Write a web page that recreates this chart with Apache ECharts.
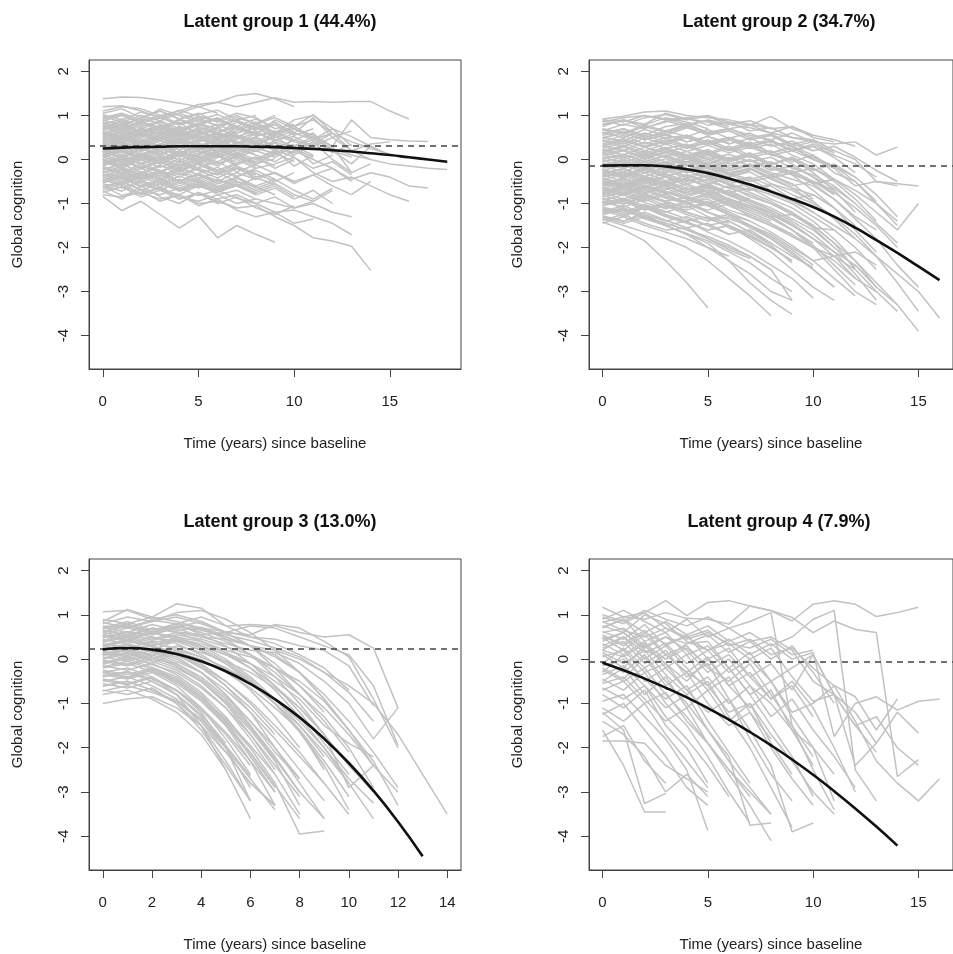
<!DOCTYPE html>
<html>
<head>
<meta charset="utf-8">
<script src="https://cdn.jsdelivr.net/npm/echarts@6/dist/echarts.min.js"></script>
<style>
html, body { margin: 0; padding: 0; background: #fff; }
#chart { width: 953px; height: 954px; }
</style>
</head>
<body>
<div id="chart"></div>
<script>
// panel titles and axis text
var titles = ["Latent group 1 (44.4%)", "Latent group 2 (34.7%)", "Latent group 3 (13.0%)", "Latent group 4 (7.9%)"];
var xName = "Time (years) since baseline";
var yName = "Global cognition";

// axis ranges and ticks (R style, 4% padding added below)
var xMax = [18, 16, 14, 16];
var yRange = [-4.5, 2];
var yTicks = [-4, -3, -2, -1, 0, 1, 2];
var xTicksA = [0, 5, 10, 15];
var xTicksB = [0, 2, 4, 6, 8, 10, 12, 14];

// dashed reference level (baseline mean) per group
var refLevel = [0.31, -0.14, 0.245, -0.07];

// estimated mean trajectory per group, one value per year from t = 0
var mean1 = [0.25, 0.27, 0.28, 0.29, 0.3, 0.3, 0.3, 0.3, 0.29, 0.28, 0.26, 0.24, 0.21, 0.18, 0.14, 0.1, 0.05, 0.0, -0.05];
var mean2 = [-0.14, -0.13, -0.13, -0.16, -0.22, -0.31, -0.43, -0.57, -0.73, -0.9, -1.08, -1.3, -1.55, -1.83, -2.12, -2.43, -2.74];
var mean3 = [0.22, 0.25, 0.215, 0.115, -0.05, -0.275, -0.56, -0.905, -1.315, -1.795, -2.345, -2.97, -3.67, -4.45];
var mean4 = [-0.08, -0.25, -0.44, -0.645, -0.865, -1.105, -1.365, -1.645, -1.945, -2.265, -2.61, -2.98, -3.37, -3.78, -4.21];

// individual trajectories (yearly values from t = 0)
var group1 = [
  [1.38,1.42,1.41,1.35,1.28,1.2,1.05],
  [1.2,1.22,1.1,0.95,1.05,1.2,1.3,1.45,1.5,1.38,1.2],
  [1.1,1.2,1.15,1.0,1.1,1.25,1.3,1.2,1.3,1.4,1.3,1.32,1.3,1.32,1.32,1.1,0.92],
  [0.95,1.05,0.9,1.15,1.0,0.85,0.9,1.05,0.95,0.7,0.8],
  [0.9,0.75,0.95,0.8,0.62,0.78,0.92,0.7,0.55],
  [0.72,0.86,0.6,0.7,0.92,0.75,0.55,0.62],
  [0.62,0.5,0.72,0.55,0.4,0.6,0.5,0.72,0.6,0.45,0.52,0.3],
  [0.52,0.66,0.45,0.55,0.72,0.5,0.35,0.45],
  [0.42,0.3,0.5,0.62,0.4,0.25,0.45,0.56,0.35,0.5],
  [0.3,0.46,0.35,0.2,0.42,0.52,0.3,0.2,0.36],
  [0.2,0.05,0.22,0.35,0.15,0.0,0.18,0.3,0.1],
  [0.1,0.25,0.05,-0.1,0.12,0.28,0.08,-0.05],
  [0.0,-0.15,0.08,0.2,-0.02,-0.2,0.05,0.15,-0.1,0.02],
  [-0.1,0.05,-0.2,-0.05,-0.25,-0.1,0.08,-0.15],
  [-0.2,-0.35,-0.15,-0.3,-0.1,-0.25,-0.42,-0.2,-0.35],
  [-0.3,-0.15,-0.4,-0.25,-0.5,-0.32,-0.18,-0.38,-0.25,-0.45],
  [-0.4,-0.55,-0.35,-0.5,-0.3,-0.48,-0.62,-0.45],
  [-0.5,-0.38,-0.6,-0.45,-0.65,-0.5,-0.7,-0.55,-0.75,-0.6,-0.85],
  [-0.6,-0.72,-0.5,-0.68,-0.8,-0.6,-0.75],
  [-0.7,-0.55,-0.78,-0.62,-0.85,-0.95,-0.8,-1.0,-0.9],
  [0.8,0.92,0.75,0.88,0.7,0.82,0.65,0.72,0.55,0.6,0.75,1.02,0.6,0.2,0.35,0.4],
  [0.2,0.35,0.25,0.42,0.3,0.45,0.35,0.52,0.4,0.6,0.7,0.55,0.3,0.9,0.5,0.45,0.42,0.41],
  [-0.1,0.0,0.1,-0.05,0.15,0.05,0.2,0.1,0.25,0.15,0.3,0.45,0.25,0.1,0.0,-0.1,-0.15,-0.2,-0.23],
  [-0.3,-0.2,-0.35,-0.15,-0.25,-0.1,-0.3,-0.2,-0.4,-0.3,-0.5,-0.35,-0.2,-0.45,-0.3,-0.4,-0.6,-0.65],
  [0.0,-0.15,0.05,-0.1,0.1,-0.05,0.15,0.0,-0.2,-0.1,0.05,-0.3,-0.5,-0.4,-0.6,-0.8,-0.95],
  [0.6,0.5,0.65,0.45,0.55,0.4,0.6,0.5,0.35,0.55,0.4,0.3,0.5,0.2,0.0],
  [0.3,0.42,0.2,0.35,0.5,0.3,0.4,0.25,0.45,0.3,0.1,0.35,0.6,0.4,0.25,0.12],
  [-0.5,-0.4,-0.62,-0.5,-0.7,-0.55,-0.8,-0.7,-0.9,-1.0,-1.1,-1.0,-1.2,-1.3],
  [-0.8,-0.85,-0.75,-0.9,-0.8,-1.0,-0.95,-1.1,-1.05,-1.3,-1.5,-1.78,-1.85,-1.97,-2.52],
  [-0.84,-1.16,-0.95,-1.25,-1.56,-1.28,-1.78,-1.5,-1.7,-1.88],
  [-0.72,-0.9,-0.6,-0.85,-1.0,-0.75,-0.9,-0.8,-1.0,-1.2,-1.15,-1.3,-1.45,-1.71],
  [0.5,0.62,0.4,0.55,0.7,0.5,0.6,0.45,0.8,0.6,0.9,1.0,0.7,0.52,0.3,0.1],
  [0.1,0.2,0.05,0.25,0.15,0.3,0.2,0.35,0.5,0.3,0.15,0.4,0.2,-0.1,0.3,0.1],
  [0.85,0.7,0.88,1.0,0.8,0.95,0.75,0.9,0.7,0.85,0.6,0.95,0.5,0.65],
  [0.45,0.55,0.7,0.5,0.65,0.8,0.6,0.75,0.55,0.9,0.7,0.5,0.3,-0.3],
  [-0.25,-0.1,-0.3,-0.45,-0.2,-0.35,-0.55,-0.4,-0.6,-0.45,-0.7,-0.9,-0.65],
  [-0.6,-0.82,-0.7,-0.95,-0.8,-1.05,-0.9,-1.15,-1.3,-1.2,-1.45,-1.35],
  [-0.45,-0.6,-0.8,-0.65,-0.9,-0.75,-1.0,-0.85,-1.1,-1.25,-1.05],
  [0.15,0.3,0.1,0.28,0.45,0.2,0.38,0.15,0.3,0.55,0.2,0.0,-0.2,-0.5],
  [0.35,0.2,0.4,0.25,0.1,0.35,0.15,0.4,0.2,0.05,0.3,0.1],
  [0.75,0.6,0.8,0.68,0.85,0.55,0.7,0.9,0.65],
  [0.68,0.8,0.65,0.78,0.6,0.82,0.7],
  [0.55,0.45,0.6,0.75,0.55,0.68,0.48,0.62],
  [0.48,0.6,0.38,0.5,0.35,0.55,0.42,0.3,0.5],
  [0.38,0.25,0.45,0.3,0.48,0.35,0.2],
  [0.25,0.4,0.18,0.32,0.15,0.3,0.45,0.28],
  [0.12,-0.05,0.15,0.0,0.2,0.08,-0.1,0.05,-0.15],
  [0.05,0.18,-0.02,0.12,-0.08,0.1,0.25,0.05],
  [-0.05,-0.2,0.0,-0.18,0.02,-0.12,-0.3,-0.1],
  [-0.15,0.0,-0.22,-0.05,-0.28,-0.1,-0.25,-0.4,-0.2],
  [-0.35,-0.5,-0.3,-0.45,-0.25,-0.42,-0.3,-0.5],
  [-0.42,-0.3,-0.5,-0.35,-0.55,-0.4,-0.6],
  [-0.55,-0.65,-0.48,-0.62,-0.45,-0.6,-0.75,-0.58,-0.8],
  [-0.65,-0.5,-0.7,-0.55,-0.72,-0.6],
  [0.92,1.02,0.85,0.95,0.8,0.98,0.88,0.75,0.92,0.7],
  [1.02,0.9,1.08,0.95,1.12,0.98,0.85],
  [0.65,0.78,0.58,0.72,0.5,0.65,0.8,0.6,0.72,0.5,0.65],
  [0.58,0.45,0.62,0.48,0.65,0.5,0.38,0.55,0.4,0.6,0.45],
  [0.28,0.15,0.35,0.2,0.38,0.25,0.1,0.3,0.18,0.4,0.25,0.05],
  [0.18,0.32,0.12,0.28,0.05,0.22,0.35,0.15,0.3,0.1,0.35],
  [-0.02,0.12,-0.08,0.08,-0.15,0.05,-0.1,0.1,-0.05,0.2,-0.15,0.1],
  [-0.18,-0.32,-0.1,-0.28,-0.05,-0.22,-0.35,-0.15,-0.32,-0.5,-0.3],
  [-0.38,-0.22,-0.45,-0.3,-0.5,-0.35,-0.55,-0.42,-0.65,-0.5],
  [0.82,0.68,0.85,0.7,0.9,0.72,0.6,0.78],
  [0.4,0.52,0.32,0.48,0.3,0.45,0.58,0.4,0.25,0.42,0.6,0.45,0.7,0.3],
  [0.02,-0.12,0.1,-0.05,0.15,-0.02,0.2,0.05,-0.1,0.12,0.3,-0.1,0.1],
  [-0.48,-0.35,-0.55,-0.7,-0.5,-0.65,-0.45,-0.6,-0.8,-0.65,-0.9,-0.7,-1.0],
  [0.98,0.85,1.0,0.88,1.05,0.9,0.78,0.95,0.82,1.0],
  [0.88,1.0,0.82,0.95,0.78,0.9,1.02,0.85,0.7],
  [0.78,0.65,0.85,0.72,0.9,0.8,0.95,0.7,0.85,0.62,0.75,0.5],
  [0.7,0.82,0.62,0.78,0.55,0.72,0.6,0.85,0.68,0.8,0.55],
  [0.63,0.52,0.7,0.58,0.75,0.62,0.48,0.66,0.8,0.55,0.7,0.45,0.6],
  [0.56,0.7,0.5,0.64,0.45,0.6,0.72,0.52,0.65,0.4],
  [0.47,0.36,0.55,0.42,0.6,0.45,0.58,0.38,0.52,0.65,0.42],
  [0.43,0.56,0.35,0.5,0.38,0.52,0.3,0.46,0.6],
  [0.33,0.22,0.4,0.28,0.44,0.3,0.48,0.25,0.4,0.2,0.45,0.3],
  [0.27,0.4,0.2,0.36,0.22,0.38,0.18,0.35,0.5,0.3],
  [0.16,0.05,0.25,0.1,0.28,0.12,0.3,0.05,0.2,0.38,0.1],
  [0.08,0.22,0.0,0.18,-0.02,0.15,0.3,0.1,0.25],
  [-0.04,-0.16,0.05,-0.1,0.1,-0.08,0.12,-0.12,0.05,-0.2,0.0],
  [-0.12,0.02,-0.18,0.0,-0.22,-0.05,-0.25,-0.08,0.05,-0.15],
  [-0.22,-0.1,-0.3,-0.12,-0.35,-0.18,-0.05,-0.28,-0.12,-0.32,-0.5],
  [-0.28,-0.4,-0.2,-0.38,-0.18,-0.35,-0.5,-0.3,-0.45],
  [-0.37,-0.25,-0.45,-0.3,-0.5,-0.32,-0.48,-0.6,-0.42,-0.55],
  [-0.46,-0.58,-0.4,-0.55,-0.38,-0.52,-0.68,-0.5,-0.62,-0.8],
  [-0.53,-0.42,-0.62,-0.5,-0.68,-0.55,-0.72,-0.6,-0.78],
  [-0.62,-0.5,-0.68,-0.8,-0.65,-0.82,-0.7,-0.88,-1.0,-0.85,-1.1,-0.95],
  [0.9,0.78,0.95,1.1,0.92,1.05,0.85,1.0,0.8,0.95,0.75,0.9,0.6],
  [0.74,0.88,0.7,0.85,0.65,0.8,0.92,0.75,0.6,0.8,0.55,0.7],
  [0.36,0.48,0.3,0.45,0.55,0.4,0.52,0.35,0.6,0.45,0.3,0.52,0.2,0.05],
  [0.06,-0.08,0.12,0.0,0.18,0.05,-0.05,0.15,0.0,0.22,0.05,-0.2,-0.05,-0.35],
  [-0.16,-0.3,-0.1,-0.25,-0.4,-0.2,-0.35,-0.15,-0.45,-0.3,-0.55,-0.35,-0.6,-0.8,-0.5],
  [-0.33,-0.45,-0.28,-0.42,-0.6,-0.45,-0.65,-0.5,-0.7,-0.55,-0.8,-0.95,-0.7],
  [0.52,0.4,0.58,0.45,0.62,0.48,0.35,0.55,0.4,0.25,0.45,0.6,0.15,0.35],
  [0.22,0.1,0.28,0.12,0.32,0.18,0.05,0.25,0.1,-0.05,0.2,0.4,0.0,-0.3,-0.1],
  [1.05,1.15,0.95,1.1,0.92,1.02,1.12,0.9,1.0],
  [-0.75,-0.62,-0.85,-0.7,-0.9,-0.78,-0.95,-1.1],
  [0.6,0.72,0.55,0.68,0.5,0.65,0.45,0.6,0.75,0.5],
  [-0.08,0.08,-0.12,0.05,-0.18,0.0,-0.15,0.1,-0.1,0.15,-0.05]
];

var group2 = [
  [0.92,0.98,1.08,1.1,1.0,0.95,0.9,0.8,0.7],
  [0.85,0.95,1.0,0.9,0.95,1.0,0.85,0.78,0.98,0.7,0.55,0.45,0.3],
  [0.75,0.9,0.8,1.05,0.92,0.85,0.7,0.78,0.6,0.5,0.4],
  [0.6,0.7,0.55,0.75,0.82,0.6,0.7,0.55,0.45,0.6,0.4,0.35,0.4,0.1,0.28],
  [0.5,0.42,0.6,0.48,0.55,0.4,0.5,0.35,0.45,0.2,0.3,0.05,-0.3],
  [0.4,0.55,0.35,0.5,0.3,0.45,0.25,0.4,0.15,0.3,0.0,-0.2,-0.6,-0.5,-0.55,-0.6],
  [0.3,0.2,0.4,0.25,0.35,0.15,0.3,0.1,0.2,-0.05,0.1,-0.3,-0.5,-0.95],
  [0.2,0.32,0.15,0.28,0.1,0.22,0.0,0.15,-0.1,0.05,-0.2,-0.45,-0.8,-1.2,-1.6,-1.0],
  [0.1,0.0,0.15,0.05,-0.05,0.1,-0.1,0.0,-0.2,-0.35,-0.5,-0.7],
  [0.0,0.12,-0.05,0.08,-0.12,0.0,-0.2,-0.1,-0.3,-0.45,-0.6,-0.9,-1.3,-1.6],
  [-0.1,-0.2,-0.05,-0.18,-0.3,-0.15,-0.35,-0.5,-0.4,-0.65,-0.8,-1.1,-1.5],
  [-0.2,-0.08,-0.25,-0.12,-0.3,-0.2,-0.4,-0.28,-0.55,-0.7,-0.95],
  [-0.3,-0.42,-0.25,-0.4,-0.5,-0.35,-0.55,-0.7,-0.6,-0.9,-1.2,-1.5,-1.8,-2.2,-2.6,-3.0,-3.6],
  [-0.4,-0.3,-0.5,-0.38,-0.55,-0.45,-0.65,-0.8,-1.0,-1.2,-1.5,-1.9,-2.3,-2.8,-3.3,-3.9],
  [-0.5,-0.62,-0.45,-0.6,-0.75,-0.6,-0.8,-0.95,-1.15,-1.4],
  [-0.6,-0.5,-0.7,-0.58,-0.8,-0.7,-0.9,-1.05,-1.2,-1.5,-1.8,-2.1,-2.4,-2.9,-3.3],
  [-0.7,-0.82,-0.65,-0.85,-0.95,-0.8,-1.0,-1.2,-1.4],
  [-0.8,-0.7,-0.9,-0.78,-1.0,-0.9,-1.15,-1.3,-1.5,-1.75,-2.0,-2.3,-2.7,-3.0,-3.45],
  [-0.9,-1.02,-0.85,-1.05,-1.15,-1.0,-1.25,-1.4],
  [-1.0,-0.9,-1.1,-1.0,-1.2,-1.35,-1.5,-1.7,-2.0,-2.3],
  [-1.1,-1.25,-1.05,-1.25,-1.4,-1.3,-1.55,-1.75,-2.0],
  [-1.2,-1.1,-1.3,-1.45,-1.6,-1.8,-2.0,-2.2,-2.5,-3.2],
  [-1.3,-1.4,-1.25,-1.5,-1.7,-2.0,-2.3,-2.6,-3.0,-3.2],
  [-1.42,-1.6,-1.85,-2.3,-2.8,-3.37],
  [-1.35,-1.5,-1.65,-1.8,-2.0,-2.3,-2.7,-3.1,-3.55],
  [-0.95,-1.1,-1.3,-1.5,-1.7,-1.9,-2.3,-2.8,-3.2,-3.52],
  [0.65,0.8,0.7,0.88,0.75,0.9,0.8,0.72,0.6,0.75,0.5,0.4],
  [0.55,0.65,0.5,0.6,0.75,0.55,0.65,0.45,0.55,0.35,0.45,0.2,0.0,-0.5,-0.6],
  [0.35,0.48,0.3,0.45,0.28,0.4,0.22,0.35,0.15,0.25,0.05,-0.15,-0.5,-1.0,-1.5],
  [0.15,0.05,0.2,0.08,0.18,0.0,0.12,-0.05,0.05,-0.2,-0.35,-0.6,-1.0],
  [-0.05,0.05,-0.12,0.02,-0.15,-0.05,-0.25,-0.15,-0.35,-0.25,-0.5,-0.75,-1.1,-1.5,-2.0],
  [-0.15,-0.28,-0.1,-0.25,-0.05,-0.2,-0.32,-0.45,-0.35,-0.6,-0.5,-0.8],
  [-0.25,-0.12,-0.3,-0.2,-0.38,-0.25,-0.45,-0.6,-0.75,-0.95,-1.2],
  [-0.35,-0.5,-0.3,-0.48,-0.35,-0.55,-0.42,-0.65,-0.8,-1.0,-1.3,-1.6,-2.0,-2.5],
  [-0.45,-0.35,-0.55,-0.4,-0.6,-0.75,-0.6,-0.85,-1.0,-1.25,-1.5,-1.9,-2.5,-3.0],
  [-0.55,-0.7,-0.5,-0.68,-0.55,-0.75,-0.95,-1.1,-1.3,-1.6,-2.0,-2.5,-3.0,-3.3],
  [-0.65,-0.55,-0.75,-0.6,-0.8,-0.65,-0.9,-1.05,-1.25,-1.5],
  [-0.75,-0.9,-0.7,-0.88,-1.0,-0.85,-1.05,-1.25,-1.45,-1.7,-2.0,-2.2,-2.1,-2.4],
  [-0.85,-0.75,-0.95,-0.8,-1.0,-1.15,-1.0,-1.3,-1.5,-1.7],
  [-0.95,-1.08,-0.9,-1.1,-0.95,-1.2,-1.35,-1.5,-1.7,-2.0,-2.3,-2.2,-2.5],
  [-1.05,-0.95,-1.15,-1.05,-1.25,-1.4,-1.3,-1.55,-1.8,-2.1,-2.5,-2.9],
  [-1.15,-1.3,-1.1,-1.3,-1.45,-1.6,-1.5,-1.75,-2.0,-2.3],
  [-1.25,-1.15,-1.35,-1.5,-1.4,-1.65,-1.85,-2.1,-2.4,-2.7,-3.15],
  [0.45,0.35,0.55,0.4,0.5,0.35,0.45,0.3,0.4,0.2,0.3,0.1,-0.1,-0.4],
  [0.25,0.38,0.2,0.35,0.18,0.32,0.15,0.28,0.1,0.2,0.0,-0.15,-0.4,-0.8,-1.3],
  [0.05,-0.08,0.1,-0.05,0.08,-0.1,0.05,-0.15,-0.05,-0.3,-0.2,-0.5,-0.9,-1.4],
  [0.8,0.9,0.78,0.95,0.85,0.7],
  [0.7,0.6,0.78,0.65,0.8,0.62,0.7],
  [0.48,0.6,0.45,0.58,0.4,0.52,0.38],
  [0.18,0.3,0.1,0.25,0.08,0.2,0.02,0.15],
  [-0.02,-0.15,0.05,-0.1,0.02,-0.18,-0.05],
  [-0.22,-0.35,-0.18,-0.3,-0.12,-0.28,-0.4,-0.25],
  [-0.32,-0.2,-0.38,-0.25,-0.42,-0.3,-0.5,-0.4,-0.6],
  [-0.48,-0.6,-0.42,-0.58,-0.45,-0.62,-0.78],
  [-0.58,-0.45,-0.65,-0.5,-0.7,-0.55,-0.75,-0.9],
  [-0.68,-0.8,-0.62,-0.78,-0.65,-0.85,-1.0,-0.9],
  [-0.78,-0.65,-0.85,-0.72,-0.9,-1.05,-0.95,-1.15],
  [-0.88,-1.0,-0.82,-0.98,-1.1,-0.95,-1.2],
  [-0.98,-0.88,-1.05,-1.2,-1.05,-1.3,-1.45],
  [-1.08,-1.2,-1.02,-1.18,-1.35,-1.5,-1.4,-1.65,-1.9],
  [-1.18,-1.05,-1.25,-1.4,-1.3,-1.5,-1.7,-1.6,-1.9,-2.2,-2.45],
  [-1.28,-1.4,-1.2,-1.38,-1.55,-1.45,-1.7],
  [-1.38,-1.25,-1.45,-1.6,-1.55,-1.8,-2.05,-2.25],
  [0.9,0.85,1.0,0.92,0.8,0.88,0.75],
  [0.3,0.42,0.28,0.4,0.55,0.35,0.5,0.3,0.42,0.2,0.35,0.15],
  [-0.12,0.0,-0.18,-0.05,-0.22,-0.1,-0.3,-0.2,-0.42,-0.3,-0.55,-0.45],
  [0.12,0.22,0.05,0.18,0.02,0.15,-0.05,0.1,-0.12,0.02,-0.25,-0.1,-0.4],
  [-0.42,-0.55,-0.38,-0.52,-0.35,-0.5,-0.65,-0.55,-0.75,-0.9,-0.8,-1.1],
  [-0.62,-0.75,-0.58,-0.72,-0.85,-0.7,-0.92,-1.1,-1.3,-1.25,-1.55,-1.6],
  [0.88,0.78,0.95,1.02,0.9,0.98,0.8,0.88,0.7,0.75,0.55],
  [0.78,0.9,0.72,0.85,0.95,0.78,0.85,0.65,0.72,0.5,0.45,0.2],
  [0.68,0.58,0.75,0.62,0.78,0.6,0.7,0.5,0.58,0.35,0.2],
  [0.58,0.7,0.5,0.65,0.52,0.68,0.48,0.6,0.4,0.3,0.1,-0.2],
  [0.42,0.3,0.48,0.35,0.5,0.32,0.45,0.25,0.35,0.1,-0.1,-0.45],
  [0.32,0.45,0.28,0.4,0.25,0.38,0.2,0.32,0.1,0.0,-0.3,-0.7,-1.2],
  [0.22,0.1,0.28,0.15,0.3,0.12,0.25,0.05,0.15,-0.1,-0.4,-0.8],
  [0.08,0.2,0.02,0.15,0.0,0.12,-0.05,0.08,-0.15,-0.35,-0.7,-1.1,-1.6,-2.1],
  [-0.08,-0.18,0.0,-0.15,0.02,-0.12,-0.25,-0.12,-0.35,-0.55,-0.9],
  [-0.18,-0.05,-0.22,-0.1,-0.28,-0.15,-0.35,-0.22,-0.45,-0.65,-0.95,-1.35,-1.8],
  [-0.28,-0.4,-0.22,-0.38,-0.25,-0.42,-0.55,-0.45,-0.7,-0.9,-1.2],
  [-0.38,-0.28,-0.45,-0.32,-0.5,-0.38,-0.58,-0.75,-0.95,-1.2,-1.55,-2.0],
  [-0.52,-0.65,-0.48,-0.62,-0.75,-0.62,-0.82,-1.0,-1.2,-1.45,-1.8,-2.2,-2.7],
  [-0.72,-0.6,-0.78,-0.65,-0.85,-1.0,-0.88,-1.1,-1.3,-1.6,-1.9],
  [-0.82,-0.95,-0.78,-0.95,-1.1,-0.98,-1.2,-1.4,-1.65,-1.95,-2.3,-2.7,-3.1],
  [-1.02,-0.92,-1.12,-1.0,-1.2,-1.35,-1.25,-1.5,-1.75,-2.05,-2.4],
  [-1.12,-1.25,-1.08,-1.28,-1.42,-1.6,-1.5,-1.8,-2.1,-2.5,-2.9,-3.2],
  [-1.22,-1.12,-1.32,-1.45,-1.6,-1.75,-1.95,-2.2,-2.5],
  [-1.32,-1.45,-1.3,-1.5,-1.68,-1.85,-2.1,-2.35,-2.7,-3.0],
  [-0.15,-0.02,-0.2,-0.08,-0.25,-0.12,-0.32,-0.2,-0.4,-0.3,-0.55,-0.45,-0.7,-1.0,-1.4],
  [0.5,0.6,0.45,0.55,0.4,0.52,0.35,0.48,0.3,0.42,0.2,0.3,0.05,-0.25,-0.5],
  [-0.25,-0.38,-0.2,-0.35,-0.48,-0.35,-0.55,-0.7,-0.55,-0.8,-1.0,-1.3,-1.7,-2.2,-2.8,-3.45],
  [-0.65,-0.78,-0.6,-0.75,-0.9,-0.78,-1.0,-1.15,-1.35,-1.6,-1.95,-2.4,-2.85],
  [-0.92,-0.8,-0.98,-1.12,-1.0,-1.2,-1.4,-1.65,-1.95,-2.35],
  [-0.45,-0.58,-0.4,-0.55,-0.7,-0.58,-0.78,-0.95,-1.15,-1.4,-1.7,-2.1,-2.6,-3.2],
  [0.02,0.12,-0.05,0.1,-0.08,0.05,-0.15,-0.02,-0.25,-0.15,-0.4,-0.65,-1.0,-1.45,-1.9],
  [0.62,0.5,0.68,0.55,0.72,0.58,0.65,0.45,0.55,0.3,0.4,0.15],
  [-1.45,-1.3,-1.5,-1.65,-1.8,-2.0,-2.2],
  [-0.35,-0.22,-0.42,-0.55,-0.42,-0.6,-0.75,-0.65,-0.9,-1.1,-1.4,-1.8,-2.3,-2.9],
  [0.15,0.28,0.1,0.22,0.05,0.18,-0.02,0.1,-0.15,-0.3,-0.55,-0.9,-1.35,-1.8,-2.4,-2.9],
  [-0.55,-0.42,-0.6,-0.48,-0.65,-0.8,-0.7,-0.92,-1.1,-1.35,-1.6,-2.0,-2.45],
  [-0.75,-0.62,-0.82,-0.95,-0.85,-1.05,-1.25,-1.5,-1.8,-2.15,-2.5,-2.9]
];

var group3 = [
  [1.07,1.1,0.9,1.0,0.85,0.6,0.3,-0.2,-0.8],
  [0.85,1.12,0.95,1.25,1.15,0.75,0.78,0.75,0.6,0.5,0.55,0.25,-1.1],
  [0.8,0.95,0.85,1.05,1.1,0.9,0.6,0.2,-0.3,-0.9,-1.6],
  [0.75,0.7,0.85,0.95,0.8,0.6,0.3,-0.1,-0.6,-1.2],
  [0.7,0.85,0.65,0.8,0.55,0.3,-0.1,-0.6,-1.2,-1.9,-2.6],
  [0.65,0.55,0.7,0.6,0.4,0.15,-0.2,-0.7,-1.3,-2.0,-2.8,-3.6],
  [0.6,0.75,0.55,0.7,0.5,0.45,0.3,0.1,-0.3,-0.9,-1.6,-2.3,-3.3],
  [0.55,0.45,0.6,0.5,0.3,0.0,-0.4,-0.9,-1.5,-2.2],
  [0.5,0.62,0.5,0.4,0.2,-0.1,-0.5,-1.0,-1.6,-2.5],
  [0.45,0.35,0.5,0.35,0.1,-0.25,-0.7,-1.3,-2.0],
  [0.4,0.52,0.38,0.45,0.3,0.1,-0.2,-0.6,-1.1,-1.7,-2.4,-3.0],
  [0.35,0.25,0.4,0.2,-0.1,-0.5,-1.0,-1.6,-2.2,-2.8],
  [0.3,0.42,0.28,0.1,-0.2,-0.6,-1.1,-1.7],
  [0.25,0.15,0.3,0.15,-0.15,-0.6,-1.2,-2.0,-2.8,-3.6],
  [0.2,0.32,0.18,0.0,-0.3,-0.8,-1.4,-2.1,-2.7],
  [0.15,0.05,0.2,0.05,-0.3,-0.8,-1.5,-2.2,-3.0,-3.6],
  [0.1,0.22,0.05,-0.15,-0.5,-1.0,-1.7,-2.5],
  [0.05,-0.05,0.1,-0.1,-0.45,-0.9,-1.5,-2.3,-3.3],
  [0.0,0.12,-0.05,-0.25,-0.6,-1.1,-1.8,-2.6,-3.5],
  [-0.05,-0.15,0.0,-0.2,-0.5,-1.0,-1.6,-2.3],
  [-0.1,0.0,-0.18,-0.4,-0.8,-1.4,-2.2,-3.0],
  [-0.15,-0.25,-0.1,-0.35,-0.75,-1.3,-2.0,-2.8,-3.95,-3.88],
  [-0.2,-0.1,-0.28,-0.5,-0.9,-1.5,-2.3,-3.3],
  [-0.25,-0.35,-0.2,-0.45,-0.85,-1.4,-2.0],
  [-0.3,-0.2,-0.4,-0.8,-1.5,-2.5,-3.6],
  [-0.35,-0.45,-0.3,-0.6,-1.1,-1.8,-2.6],
  [-0.4,-0.3,-0.5,-0.8,-1.3,-2.0,-3.2],
  [-0.45,-0.55,-0.4,-0.7,-1.2,-2.0,-2.9],
  [-0.5,-0.4,-0.6,-0.9,-1.4,-2.1,-2.8,-3.3],
  [-0.55,-0.65,-0.5,-0.8,-1.25,-1.9],
  [-0.62,-0.5,-0.7,-1.0,-1.5,-2.3,-3.2],
  [-0.7,-0.8,-0.65,-1.0,-1.6,-2.4,-3.2],
  [-0.8,-0.7,-0.9,-1.2,-1.7,-2.5],
  [-1.0,-0.9,-0.85,-1.1,-1.5,-2.1,-2.8,-3.3],
  [-0.72,-0.6,-0.75,-0.95,-1.35,-1.95,-2.65],
  [0.5,0.62,0.55,0.75,0.65,0.5,0.3,0.2,0.0,-0.3,-0.6,-1.0,-1.7,-2.6,-3.5],
  [0.7,0.78,0.62,0.72,0.85,0.6,0.55,0.78,0.7,0.4,0.05,-0.9,-2.0],
  [0.42,0.55,0.45,0.6,0.5,0.35,0.2,0.15,-0.1,-0.5,-1.0,-1.8,-1.1],
  [0.32,0.45,0.3,0.5,0.4,0.2,0.05,-0.2,-0.5,-0.95,-1.6,-2.4,-3.0],
  [0.22,0.35,0.2,0.42,0.3,0.1,-0.1,-0.4,-0.8,-1.3,-2.0,-2.9],
  [0.12,0.25,0.08,0.3,0.15,-0.05,-0.3,-0.65,-1.1,-1.7,-2.9,-2.4],
  [0.02,0.15,-0.02,0.2,0.05,-0.2,-0.5,-0.9,-1.4,-2.0,-2.7,-3.25],
  [0.62,0.78,0.6,0.72,0.68,0.55,0.42,0.25,0.05,-0.3,-0.75,-1.4],
  [0.82,0.72,0.88,0.8,0.95,0.75,0.5,0.35,0.1,-0.2,-0.7],
  [-0.12,0.05,-0.1,0.15,0.0,-0.3,-0.65,-1.1,-1.6,-2.4,-3.4],
  [0.28,0.4,0.3,0.45,0.35,0.15,-0.1,-0.5,-0.9,-1.5,-1.9,-2.2],
  [0.9,0.8,0.95,0.85,0.7,0.45,0.1,-0.4,-1.0,-1.7],
  [0.68,0.8,0.6,0.75,0.6,0.4,0.1,-0.3,-0.8,-1.4,-2.1],
  [0.52,0.42,0.6,0.45,0.25,-0.05,-0.45,-1.0,-1.6,-2.3,-3.1],
  [0.38,0.5,0.32,0.4,0.2,-0.1,-0.5,-1.0,-1.65,-2.4],
  [0.18,0.08,0.25,0.1,-0.15,-0.5,-0.95,-1.5,-2.1,-2.8,-3.5],
  [0.08,0.2,0.0,-0.1,-0.4,-0.85,-1.4,-2.0,-2.7],
  [-0.02,-0.12,0.05,-0.15,-0.5,-0.95,-1.55,-2.25,-3.0],
  [-0.18,-0.05,-0.22,-0.45,-0.85,-1.35,-1.95,-2.6],
  [-0.28,-0.4,-0.22,-0.5,-0.9,-1.45,-2.1,-2.85,-3.6],
  [-0.38,-0.28,-0.45,-0.7,-1.1,-1.65,-2.3,-3.0],
  [-0.48,-0.58,-0.42,-0.72,-1.15,-1.7,-2.4],
  [-0.6,-0.5,-0.7,-0.95,-1.4,-2.0,-2.7,-3.4],
  [0.72,0.6,0.78,0.65,0.72,0.5,0.3,0.05,-0.3,-0.8,-1.4,-2.1,-2.9],
  [0.48,0.6,0.42,0.55,0.45,0.28,0.1,-0.2,-0.6,-1.1,-1.7,-2.4],
  [0.3,0.18,0.35,0.25,0.05,-0.2,-0.55,-1.0,-1.5,-2.1,-2.8],
  [0.12,0.0,0.15,-0.05,-0.3,-0.7,-1.2,-1.8,-2.5,-3.2],
  [-0.08,0.05,-0.12,-0.3,-0.65,-1.1,-1.7,-2.4,-3.1],
  [-0.3,-0.42,-0.25,-0.55,-0.95,-1.5,-2.15,-2.9],
  [0.55,0.7,0.6,0.8,0.7,0.62,0.5,0.45,0.3,0.2,-0.15,-1.05],
  [0.6,0.5,0.7,0.62,0.55,0.6,0.75,0.7,0.5,0.3,0.1,-0.6,-1.95]
];

var group4 = [
  [1.17,0.95,1.05,1.32,0.98,1.28,1.32,1.2,1.09,0.86,1.24,1.32,1.24,0.96,1.05,1.17],
  [0.83,0.95,0.9,1.05,0.92,0.9,0.79,1.2,1.1,0.94,0.6,0.86,0.67,0.6,-2.65,-2.27],
  [0.9,1.1,0.85,0.6,0.9,0.5,0.7,0.4,0.5,0.2,-0.5,-0.8,-1.2,-1.9],
  [0.75,0.6,1.0,0.8,0.4,0.2,0.35,0.0,-0.5,-0.2,0.1,-0.8,-1.5,-2.1],
  [0.6,0.7,0.3,0.5,0.2,-0.3,0.0,-0.6,-1.0,-1.6,-2.0,-3.2],
  [0.5,0.35,0.65,0.1,0.3,-0.2,-0.5,-0.1,-0.8,-1.5,-2.5,-3.4],
  [0.45,0.6,0.2,0.0,0.35,0.4,-0.2,-0.8,-1.5,-2.2,-3.1],
  [0.35,0.1,0.4,-0.2,0.1,-0.6,-1.2,-1.0,-1.9,-2.6],
  [0.25,0.4,-0.1,0.2,-0.4,-0.1,-0.9,-1.6,-2.4,-3.9,-3.7],
  [0.15,-0.1,0.2,-0.35,-0.8,-0.5,-1.3,-2.0,-2.9,-3.8],
  [0.05,0.2,-0.3,-0.1,-0.7,-1.2,-0.9,-1.8,-2.6,-3.2],
  [-0.05,-0.3,0.1,-0.5,-1.0,-1.6,-2.2,-3.75,-3.7],
  [-0.15,0.0,-0.45,-0.9,-0.6,-1.4,-2.1,-2.8],
  [-0.25,-0.5,-0.2,-0.8,-1.3,-1.9,-2.6,-3.3,-4.1],
  [-0.35,-0.15,-0.6,-1.1,-0.8,-1.6,-2.3,-2.9,-3.5],
  [-0.45,-0.7,-0.3,-1.0,-1.5,-2.2,-3.0,-3.7],
  [-0.55,-0.4,-0.9,-1.4,-1.1,-1.9,-2.5,-3.1],
  [-0.65,-0.9,-0.6,-1.3,-1.8,-2.4,-3.1],
  [-0.8,-1.1,-0.7,-1.5,-2.0,-2.8],
  [-0.95,-0.8,-1.3,-1.8,-2.5,-3.87],
  [-1.1,-1.4,-1.0,-1.7,-2.3,-2.9],
  [-1.25,-1.0,-1.6,-2.2,-2.9,-3.3],
  [-1.4,-1.7,-2.2,-3.0,-2.6,-3.1],
  [-1.6,-2.4,-3.45,-3.45],
  [-1.85,-1.85,-1.9,-2.4,-2.7,-3.0],
  [-1.2,-1.6,-3.26,-3.03],
  [-1.75,-1.5,-2.3,-2.8],
  [0.7,0.9,0.4,0.6,0.1,0.3,-0.2,0.15,-0.5,-1.2,-1.0,-0.6,-0.85,-1.6,-0.9],
  [0.3,0.5,0.15,0.35,-0.1,0.2,-0.3,0.0,0.25,-0.4,-0.95,-0.8,-1.5,-1.3,-2.0,-2.4],
  [0.55,0.3,0.6,0.35,0.5,0.2,0.45,0.1,0.35,0.0,0.15,-1.75,-1.0,-0.85,-1.15,-0.95,-0.9],
  [0.95,0.8,1.05,0.7,0.5,0.65,0.3,0.45,0.1,0.25,-0.2,-0.6,-1.4,-2.3,-2.8,-3.2,-2.7],
  [-0.3,0.1,-0.5,-0.2,-0.7,-0.4,-1.0,-0.6,-1.3,-0.9,-1.6,-2.2,-2.9],
  [0.1,-0.2,0.3,-0.1,-0.5,0.0,-0.6,-0.3,-0.9,-0.5,-1.1,-2.0,-3.0],
  [-0.1,0.25,-0.2,0.1,-0.3,-0.6,-0.2,-0.8,-0.5,-1.3,-2.0,-2.6],
  [0.4,0.6,0.25,0.5,0.35,0.55,0.15,0.4,0.0,0.3,-0.3,-1.0],
  [0.85,0.65,0.5,0.7,0.45,0.6,0.35,0.25,0.45,0.1,0.2],
  [-0.5,-0.2,-0.8,-0.4,-1.1,-0.7,-1.4,-1.0,-1.7,-2.3,-3.0,-3.5],
  [1.0,0.85,1.1,0.9,0.75,0.95,0.7,0.85,1.05,-1.5,-2.2],
  [0.72,0.9,0.6,0.85,0.55,0.75,0.4,0.6,0.3,0.5,0.9,1.1,-2.5,-3.2],
  [0.2,0.05,0.35,0.0,0.25,-0.15,0.1,-0.4,-0.1,-0.7,0.1,-0.8,-2.4,-1.9,-1.2,-1.67],
  [0.62,0.45,0.78,0.3,0.55,0.0,0.25,-0.4,-0.9,-0.6,-1.3],
  [-0.2,-0.45,0.05,-0.6,-0.3,-1.0,-1.5,-1.2,-2.0,-2.7,-3.3],
  [0.48,0.2,0.55,0.1,-0.3,0.05,-0.6,-1.1,-0.7,-1.6,-2.4],
  [-0.7,-0.5,-1.0,-0.75,-1.4,-1.9,-2.5,-3.0,-3.5],
  [0.2,0.5,0.0,0.3,-0.2,-0.7,-0.4,-1.2,-1.8]
];

// panel placement in the 953x954 page
var layout = [
  { left: 89, top: 60, width: 372, height: 309, titleX: 275, titleY: 8 },
  { left: 589, top: 60, width: 371, height: 309, titleX: 774, titleY: 8 },
  { left: 89, top: 559, width: 372, height: 311, titleX: 275, titleY: 508 },
  { left: 589, top: 559, width: 371, height: 311, titleX: 774, titleY: 508 }
];

var groups = [group1, group2, group3, group4];
var means = [mean1, mean2, mean3, mean4];
var xTickSets = [xTicksA, xTicksA, xTicksB, xTicksA];

var font = "Liberation Sans, Arial, sans-serif";
var chart = echarts.init(document.getElementById("chart"));

var grids = [], xAxes = [], yAxes = [], series = [], titleList = [];
var ySpan = yRange[1] - yRange[0];

layout.forEach(function(p, k) {
  var xPad = xMax[k] * 0.04;
  titleList.push({
    text: titles[k], left: p.titleX, top: p.titleY, textAlign: "center",
    textStyle: { fontFamily: font, fontSize: 18, fontWeight: "bold", color: "#111" }
  });
  grids.push({
    left: p.left, top: p.top, width: p.width, height: p.height,
    show: true, borderColor: "#444", borderWidth: 1, backgroundColor: "transparent"
  });
  xAxes.push({
    gridIndex: k, type: "value", min: -xPad, max: xMax[k] + xPad,
    name: xName, nameLocation: "middle", nameGap: 67,
    nameTextStyle: { fontFamily: font, fontSize: 15, color: "#222" },
    axisLine: { show: true, onZero: false, lineStyle: { color: "#444" } },
    axisTick: { show: true, length: 8, customValues: xTickSets[k], lineStyle: { color: "#444" } },
    axisLabel: { customValues: xTickSets[k], margin: 25, fontFamily: font, fontSize: 15, color: "#222" },
    splitLine: { show: false }
  });
  yAxes.push({
    gridIndex: k, type: "value", min: yRange[0] - ySpan * 0.04, max: yRange[1] + ySpan * 0.04,
    name: yName, nameLocation: "middle", nameGap: 64,
    nameTextStyle: { fontFamily: font, fontSize: 15, color: "#222" },
    axisLine: { show: true, onZero: false, lineStyle: { color: "#444" } },
    axisTick: { show: true, length: 8, customValues: yTicks, lineStyle: { color: "#444" } },
    axisLabel: { customValues: yTicks, rotate: 90, margin: 18, fontFamily: font, fontSize: 15, color: "#222" },
    splitLine: { show: false }
  });

  groups[k].forEach(function(vals) {
    series.push({
      type: "line", xAxisIndex: k, yAxisIndex: k, silent: true, symbol: "none", z: 2,
      data: vals.map(function(v, t) { return [t, v]; }),
      lineStyle: { color: "#c2c2c2", width: 1.5 }
    });
  });

  series.push({
    type: "line", xAxisIndex: k, yAxisIndex: k, silent: true, symbol: "none", smooth: true, z: 5,
    data: means[k].map(function(v, t) { return [t, v]; }),
    lineStyle: { color: "#111", width: 2.6 },
    markLine: {
      silent: true, symbol: "none", label: { show: false },
      lineStyle: { type: [6, 5], color: "#444", width: 1.5 },
      data: [{ yAxis: refLevel[k] }]
    }
  });
});

chart.setOption({
  animation: false,
  backgroundColor: "#fff",
  title: titleList,
  grid: grids,
  xAxis: xAxes,
  yAxis: yAxes,
  series: series
});
</script>
</body>
</html>
